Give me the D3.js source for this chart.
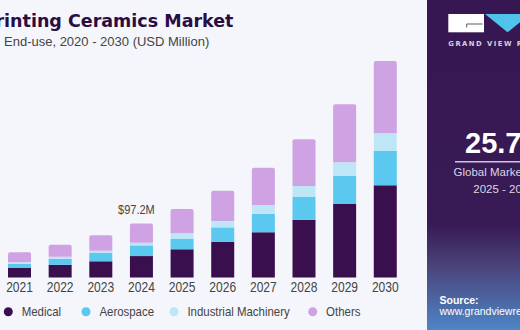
<!DOCTYPE html>
<html>
<head>
<meta charset="utf-8">
<script src="https://cdn.jsdelivr.net/npm/d3@7/dist/d3.min.js"></script>
<style>
  html, body { margin: 0; padding: 0; background: #f4f6fb; }
  svg { display: block; }
</style>
</head>
<body>
<svg id="chart" width="520" height="330"></svg>
<script>
// Market size by end-use, USD million
const years = ["2021", "2022", "2023", "2024", "2025", "2026", "2027", "2028", "2029", "2030"];
const medical    = [17.1, 23.0, 29.2, 38.6, 50.8, 64.4, 81.4, 104.0, 132.3, 166.0];
const aerospace  = [7.7, 10.8, 15.5, 19.2, 19.1, 25.9, 33.5, 40.9, 50.4, 61.7];
const industrial = [2.5, 3.6, 3.6, 4.6, 9.7, 11.3, 15.7, 19.8, 24.7, 31.9];
const others     = [18.0, 21.6, 27.7, 34.8, 43.7, 54.5, 67.1, 84.1, 104.4, 130.1];
const seriesNames = ["Medical", "Aerospace", "Industrial Machinery", "Others"];
const seriesColors = ["#3a0f4e", "#5ac8ef", "#bfe6f6", "#cfa2e4"];
const highlightYear = "2024";
const highlightLabel = "$97.2M";
const cagrText = "25.7%";
const cagrCaption = ["Global Market CAGR,", "2025 - 2030"];

const svg = d3.select("#chart");
const W = 520, H = 330;
const narrowFont = "'Liberation Sans', Arial, sans-serif";

svg.append("rect").attr("width", W).attr("height", H).attr("fill", "#f4f6fb");

// Build stacked data
const rows = years.map((y, i) => ({
  year: y,
  Medical: medical[i],
  Aerospace: aerospace[i],
  "Industrial Machinery": industrial[i],
  Others: others[i]
}));
const stack = d3.stack().keys(seriesNames)(rows);

const x = d3.scaleBand().domain(years).range([-0.8, 405.6])
  .paddingInner(0.434).paddingOuter(0.217);
const y = d3.scaleLinear().domain([0, 400]).range([277.5, 55.3]);

const g = svg.append("g");
stack.forEach((layer, li) => {
  g.selectAll(null).data(layer).enter().append("path")
    .attr("fill", seriesColors[li])
    .attr("d", d => {
      const x0 = x(d.data.year), x1 = x0 + x.bandwidth();
      const y0 = y(d[0]), y1 = y(d[1]);
      if (li === stack.length - 1) {
        const r = 2;
        return `M${x0},${y0}V${y1 + r}Q${x0},${y1} ${x0 + r},${y1}H${x1 - r}Q${x1},${y1} ${x1},${y1 + r}V${y0}Z`;
      }
      return `M${x0},${y0}V${y1}H${x1}V${y0}Z`;
    });
});

// Year labels (slightly condensed)
const axis = d3.axisBottom(x).tickSize(0).tickPadding(0);
const ax = svg.append("g").attr("transform", "translate(0,282.5)").call(axis);
ax.select(".domain").remove();
ax.selectAll("text")
  .attr("dy", "0.71em")
  .attr("y", 0)
  .attr("transform", "scale(0.86,1)")
  .attr("fill", "#444")
  .style("font-family", narrowFont)
  .style("font-size", "14px");

// Value label above highlighted bar
const hiIdx = years.indexOf(highlightYear);
const hiTotal = medical[hiIdx] + aerospace[hiIdx] + industrial[hiIdx] + others[hiIdx];
svg.append("g")
  .attr("transform", `translate(${x(highlightYear) + x.bandwidth() / 2 - 5},${y(hiTotal) - 9.5}) scale(0.88,1)`)
  .append("text")
  .attr("text-anchor", "middle")
  .attr("fill", "#444")
  .style("font-family", narrowFont)
  .style("font-size", "12.5px")
  .text(highlightLabel);

// Title and subtitle
svg.append("text")
  .attr("x", 233.5).attr("y", 27)
  .attr("text-anchor", "end")
  .attr("fill", "#2b0d44")
  .style("font-family", "'DejaVu Sans', sans-serif")
  .style("font-weight", "bold")
  .style("font-size", "17.5px")
  .text("3D Printing Ceramics Market");
svg.append("text")
  .attr("x", 4).attr("y", 45.5)
  .attr("fill", "#444")
  .style("font-family", "'Liberation Sans', Arial, sans-serif")
  .style("font-size", "13px")
  .text("End-use, 2020 - 2030 (USD Million)");

// Legend
const legendX = [8.3, 86, 174, 312.7];
const legend = svg.append("g");
seriesNames.forEach((name, i) => {
  legend.append("circle").attr("cx", legendX[i]).attr("cy", 311.7).attr("r", 4.5)
    .attr("fill", seriesColors[i]);
  legend.append("g")
    .attr("transform", `translate(${legendX[i] + 13.4},316) scale(0.88,1)`)
    .append("text")
    .attr("fill", "#444")
    .style("font-family", narrowFont)
    .style("font-size", "13px")
    .text(name);
});

// Side panel
const defs = svg.append("defs");
const grad = defs.append("linearGradient").attr("id", "panelGrad")
  .attr("x1", 0).attr("y1", 0).attr("x2", 0).attr("y2", 1);
grad.append("stop").attr("offset", "0%").attr("stop-color", "#371751");
grad.append("stop").attr("offset", "68%").attr("stop-color", "#381a55");
grad.append("stop").attr("offset", "80%").attr("stop-color", "#4a4078");
grad.append("stop").attr("offset", "100%").attr("stop-color", "#4d86c6");

const panel = svg.append("g");
panel.append("rect").attr("x", 427).attr("y", 0).attr("width", 93).attr("height", H)
  .attr("fill", "url(#panelGrad)");

// Logo
panel.append("rect").attr("x", 448.3).attr("y", 14).attr("width", 35.7).attr("height", 18.3)
  .attr("fill", "#ffffff");
panel.append("path").attr("d", "M466.7,27.5V24H482.7")
  .attr("fill", "none").attr("stroke", "#5a5a6a").attr("stroke-width", 1);
panel.append("path").attr("d", "M485,14L530,14L507.5,32.3Z").attr("fill", "#4fc3ea");
panel.append("text").attr("x", 448.3).attr("y", 46)
  .attr("fill", "#d6cfe0")
  .style("font-family", "'DejaVu Sans', sans-serif")
  .style("font-weight", "bold")
  .style("font-size", "6.8px")
  .style("letter-spacing", "1.5px")
  .text("GRAND VIEW RESEARCH");

panel.append("text").attr("x", 465).attr("y", 153)
  .attr("fill", "#ffffff")
  .style("font-family", "'Liberation Sans', Arial, sans-serif")
  .style("font-weight", "bold")
  .style("font-size", "29px")
  .text(cagrText);
panel.append("line").attr("x1", 455).attr("x2", 530).attr("y1", 161.7).attr("y2", 161.7)
  .attr("stroke", "#cfc6dc").attr("stroke-width", 1.5);
panel.append("text").attr("x", 453.5).attr("y", 175.5)
  .attr("fill", "#ddd6e6")
  .style("font-family", "'Liberation Sans', Arial, sans-serif")
  .style("font-size", "11.5px")
  .text(cagrCaption[0]);
panel.append("text").attr("x", 473.3).attr("y", 192.5)
  .attr("fill", "#ddd6e6")
  .style("font-family", "'Liberation Sans', Arial, sans-serif")
  .style("font-size", "11.5px")
  .text(cagrCaption[1]);

panel.append("text").attr("x", 439.5).attr("y", 303.5)
  .attr("fill", "#ffffff")
  .style("font-family", "'Liberation Sans', Arial, sans-serif")
  .style("font-weight", "bold")
  .style("font-size", "10.5px")
  .text("Source:");
panel.append("text").attr("x", 439.5).attr("y", 314.5)
  .attr("fill", "#ffffff")
  .style("font-family", "'Liberation Sans', Arial, sans-serif")
  .style("font-size", "10.5px")
  .text("www.grandviewresearch.com");
</script>
</body>
</html>
